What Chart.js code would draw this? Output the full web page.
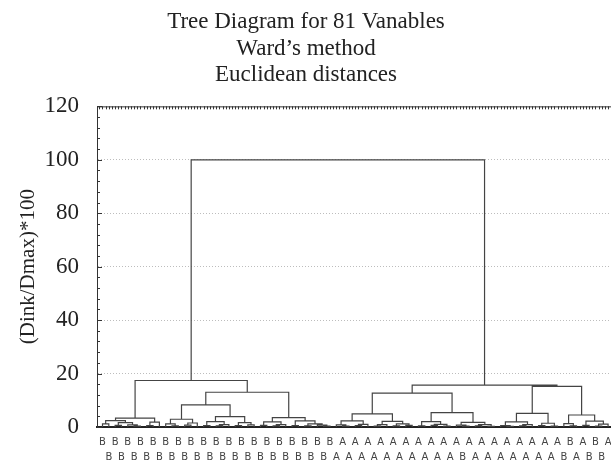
<!DOCTYPE html>
<html>
<head>
<meta charset="utf-8">
<script src="https://cdn.jsdelivr.net/npm/chart.js@4.4.0/dist/chart.umd.min.js"></script>
<style>
  html, body { margin: 0; padding: 0; background: #fff; overflow: hidden; }
  #wrap { width: 612px; height: 465px; }
</style>
</head>
<body>
<div id="wrap"><canvas id="treeChart"></canvas></div>
<script>
// leaf labels, left to right (81 variables)
const leafLabels = [
  'B','B','B','B','B','B','B','B','B','B','B','B','B','B','B','B','B','B','B','B',
  'B','B','B','B','B','B','B','B','B','B','B','B','B','B','B','B','B',
  'A','A','A','A','A','A','A','A','A','A','A','A','A','A','A','A','A','A','A','A',
  'B',
  'A','A','A','A','A','A','A','A','A','A','A','A','A','A','A',
  'B','B','A','A','B','B','B','A'
];

const yTicks = [0, 20, 40, 60, 80, 100, 120];

// clusters as [left, right, linkage distance]; plain numbers are leaf positions
const clusterLL = [[[0, 1, 1.2], [[2, 3, 0.6], [4, [5, 6, 0.3], 0.8], 1.6], 2.4], [[7, 8, 0.5], 9, 1.8], 3.3];
const clusterLRA = [[10, [11, 12, 0.4], 1.2], [[13, 14, 0.7], 15, 1.5], 2.9];
const clusterLRB = [[[16, 17, 0.5], [[18, 19, 0.4], 20, 0.9], 2.0], [[21, 22, 0.5], [23, 24, 0.8], 1.6], 3.9];
const clusterLRC = [[[25, 26, 0.6], [[27, 28, 0.4], 29, 0.9], 1.9], [[30, 31, 0.5], [[32, 33, 0.4], [34, [35, 36, 0.3], 0.7], 1.2], 2.3], 3.5];
const clusterR1a = [[[37, [38, 39, 0.3], 0.8], [[40, 41, 0.5], 42, 1.0], 2.3], [[[43, 44, 0.3], 45, 0.9], [[46, 47, 0.4], [48, 49, 0.6], 1.2], 2.1], 4.9];
const clusterR1b = [[[50, 51, 0.4], [[52, 53, 0.6], [54, 55, 0.3], 1.0], 2.0], [[56, [57, 58, 0.3], 0.7], [[59, 60, 0.4], [61, 62, 0.2], 0.9], 1.7], 5.4];
const clusterR2a = [[[63, [64, 65, 0.2], 0.5], [[66, 67, 0.4], 68, 0.9], 1.9], [[69, 70, 0.5], [71, 72, 0.3], 1.4], 5.1];
const clusterR2b = [[73, [74, 75, 0.4], 1.3], [[76, 77, 0.6], [[78, 79, 0.3], 80, 1.1], 2.2], 4.5];

// upper joins
const leftBranch = [clusterLL, [[clusterLRA, clusterLRB, 8.3], clusterLRC, 13.0], 17.4];
const rightBranch = [[clusterR1a, clusterR1b, 12.7], [clusterR2a, clusterR2b, 15.2], 15.7];
const fullTree = [leftBranch, rightBranch, 100];

// turn tree into line segments (null y breaks the line)
const segments = [];
function walk(node) {
    if (typeof node === 'number') return { x: node, y: 0 };
    const a = walk(node[0]);
    const b = walk(node[1]);
    const h = node[2];
    segments.push({x: a.x, y: a.y}, {x: a.x, y: h}, {x: b.x, y: h}, {x: b.x, y: b.y}, {x: b.x, y: null});
    return { x: (a.x + b.x) / 2, y: h };
}
walk(fullTree);

// frame top edge and small inward ticks
const frameTicks = {
    id: 'frameTicks',
    afterDraw(chart) {
        const {ctx, chartArea} = chart;
        const xs = chart.scales.x, ys = chart.scales.y;
        ctx.save();
        ctx.strokeStyle = '#333';
        ctx.lineWidth = 1;
        ctx.beginPath();
        ctx.moveTo(chartArea.left, chartArea.top + 0.5);
        ctx.lineTo(chartArea.right, chartArea.top + 0.5);
        for (let v = -0.5; v <= xs.max; v += 0.5) {
            const px = Math.round(xs.getPixelForValue(v)) + 0.5;
            ctx.moveTo(px, chartArea.top);
            ctx.lineTo(px, chartArea.top + 3);
        }
        for (let v = 0; v <= 120; v += 4) {
            const py = Math.round(ys.getPixelForValue(v)) + 0.5;
            ctx.moveTo(chartArea.left, py);
            ctx.lineTo(chartArea.left + (v % 20 === 0 ? 5 : 3), py);
        }
        ctx.stroke();
        ctx.restore();
    }
};

new Chart(document.getElementById('treeChart'), {
    type: 'line',
    data: {
        datasets: [{
            data: segments,
            borderColor: '#444',
            borderWidth: 1.2,
            pointRadius: 0,
            spanGaps: false,
            tension: 0
        }]
    },
    options: {
        responsive: true,
        maintainAspectRatio: false,
        animation: false,
        layout: { autoPadding: false, padding: { left: 0, right: 0, top: 9, bottom: 1 } },
        scales: {
            x: {
                type: 'linear',
                min: -0.87,
                max: 80.62,
                afterBuildTicks: scale => {
                    scale.ticks = leafLabels.map((_, i) => ({ value: i }));
                },
                afterFit: scale => {
                    scale.height = 37;
                    scale.paddingLeft = 0;
                    scale.paddingRight = 0;
                },
                ticks: {
                    autoSkip: false,
                    maxRotation: 0,
                    minRotation: 0,
                    padding: 8,
                    color: '#444',
                    font: { family: 'DejaVu Sans', size: 10, lineHeight: 1.5 },
                    callback: value => {
                        const i = Math.round(value);
                        return i % 2 === 0 ? [leafLabels[i]] : ['', leafLabels[i]];
                    }
                },
                grid: { display: false, drawTicks: false },
                border: { display: true, color: '#222', width: 2 }
            },
            y: {
                min: 0,
                max: 120,
                afterBuildTicks: scale => {
                    scale.ticks = yTicks.map(v => ({ value: v }));
                },
                afterFit: scale => { scale.width = 97; },
                ticks: {
                    padding: 18,
                    color: '#222',
                    font: { family: 'Liberation Serif', size: 23 }
                },
                grid: {
                    drawTicks: false,
                    color: ctx => (ctx.tick && (ctx.tick.value === 0 || ctx.tick.value === 120)) ? 'rgba(0,0,0,0)' : '#bdbdbd',
                    lineWidth: 1
                },
                border: { display: true, color: '#333', width: 1, dash: [1, 2] },
                title: {
                    display: true,
                    text: '(Dink/Dmax)*100',
                    color: '#222',
                    font: { family: 'Liberation Serif', size: 21 },
                    padding: { top: 16, bottom: 3 }
                }
            }
        },
        plugins: {
            legend: { display: false },
            tooltip: { enabled: false },
            title: {
                display: true,
                text: ['Tree Diagram for 81 Vanables', 'Ward\u2019s method', 'Euclidean distances'],
                color: '#222',
                font: { family: 'Liberation Serif', size: 23, weight: 'normal', lineHeight: 1.15 },
                padding: { top: 0, bottom: 18 }
            }
        }
    },
    plugins: [frameTicks]
});
</script>
</body>
</html>
